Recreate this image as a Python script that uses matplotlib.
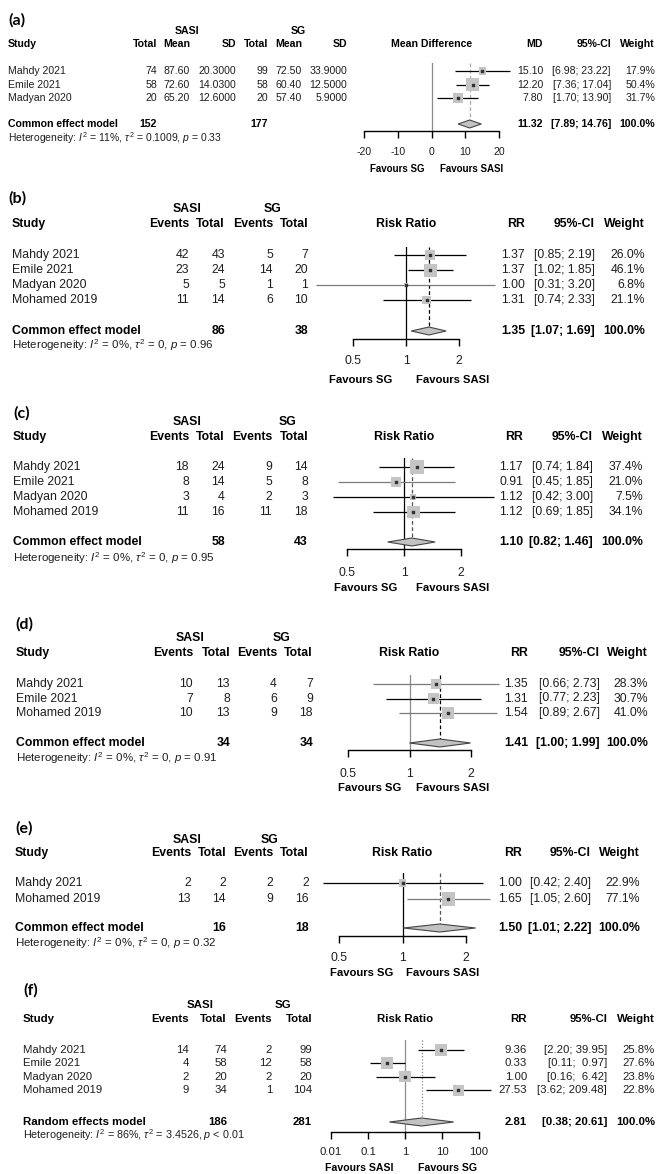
import numpy as np
import matplotlib.pyplot as plt
from matplotlib.patches import Polygon
from matplotlib.ticker import NullLocator
from matplotlib.transforms import blended_transform_factory

plt.rcParams['font.family'] = ['Liberation Sans', 'DejaVu Sans']
plt.rcParams['mathtext.fontset'] = 'custom'
plt.rcParams['mathtext.rm'] = 'Liberation Sans'
plt.rcParams['mathtext.it'] = 'Liberation Sans:italic'
plt.rcParams['mathtext.bf'] = 'Liberation Sans:bold'
plt.rcParams['axes.unicode_minus'] = False

# (a) mean difference
studies_a = ['Mahdy 2021', 'Emile 2021', 'Madyan 2020']
sasi_total_a = [74, 58, 20]
sasi_mean_a = [87.60, 72.60, 65.20]
sasi_sd_a = [20.3000, 14.0300, 12.6000]
sg_total_a = [99, 58, 20]
sg_mean_a = [72.50, 60.40, 57.40]
sg_sd_a = [33.9000, 12.5000, 5.9000]
md_a = [15.10, 12.20, 7.80]
lo_a = [6.98, 7.36, 1.70]
hi_a = [23.22, 17.04, 13.90]
w_a = [17.9, 50.4, 31.7]
pooled_a = (11.32, 7.89, 14.76)
totals_a = (152, 177)
het_a = ('11%', '0.1009', '= 0.33')

# (b) - (f) risk ratios
studies_b = ['Mahdy 2021', 'Emile 2021', 'Madyan 2020', 'Mohamed 2019']
sasi_ev_b = [42, 23, 5, 11]
sasi_n_b = [43, 24, 5, 14]
sg_ev_b = [5, 14, 1, 6]
sg_n_b = [7, 20, 1, 10]
rr_b = [1.37, 1.37, 1.00, 1.31]
lo_b = [0.85, 1.02, 0.31, 0.74]
hi_b = [2.19, 1.85, 3.20, 2.33]
w_b = [26.0, 46.1, 6.8, 21.1]
pooled_b = (1.35, 1.07, 1.69)
totals_b = (86, 38)
het_b = ('0%', '0', '= 0.96')

studies_c = ['Mahdy 2021', 'Emile 2021', 'Madyan 2020', 'Mohamed 2019']
sasi_ev_c = [18, 8, 3, 11]
sasi_n_c = [24, 14, 4, 16]
sg_ev_c = [9, 5, 2, 11]
sg_n_c = [14, 8, 3, 18]
rr_c = [1.17, 0.91, 1.12, 1.12]
lo_c = [0.74, 0.45, 0.42, 0.69]
hi_c = [1.84, 1.85, 3.00, 1.85]
w_c = [37.4, 21.0, 7.5, 34.1]
pooled_c = (1.10, 0.82, 1.46)
totals_c = (58, 43)
het_c = ('0%', '0', '= 0.95')

studies_d = ['Mahdy 2021', 'Emile 2021', 'Mohamed 2019']
sasi_ev_d = [10, 7, 10]
sasi_n_d = [13, 8, 13]
sg_ev_d = [4, 6, 9]
sg_n_d = [7, 9, 18]
rr_d = [1.35, 1.31, 1.54]
lo_d = [0.66, 0.77, 0.89]
hi_d = [2.73, 2.23, 2.67]
w_d = [28.3, 30.7, 41.0]
pooled_d = (1.41, 1.00, 1.99)
totals_d = (34, 34)
het_d = ('0%', '0', '= 0.91')

studies_e = ['Mahdy 2021', 'Mohamed 2019']
sasi_ev_e = [2, 13]
sasi_n_e = [2, 14]
sg_ev_e = [2, 9]
sg_n_e = [2, 16]
rr_e = [1.00, 1.65]
lo_e = [0.42, 1.05]
hi_e = [2.40, 2.60]
w_e = [22.9, 77.1]
pooled_e = (1.50, 1.01, 2.22)
totals_e = (16, 18)
het_e = ('0%', '0', '= 0.32')

studies_f = ['Mahdy 2021', 'Emile 2021', 'Madyan 2020', 'Mohamed 2019']
sasi_ev_f = [14, 4, 2, 9]
sasi_n_f = [74, 58, 20, 34]
sg_ev_f = [2, 12, 2, 1]
sg_n_f = [99, 58, 20, 104]
rr_f = [9.36, 0.33, 1.00, 27.53]
lo_f = [2.20, 0.11, 0.16, 3.62]
hi_f = [39.95, 0.97, 6.42, 209.48]
w_f = [25.8, 27.6, 23.8, 22.8]
pooled_f = (2.81, 0.38, 20.61)
totals_f = (186, 281)
het_f = ('86%', '3.4526', '< 0.01')

W, H = 658, 1174
fig = plt.figure(figsize=(W / 100, H / 100), dpi=100)
bg = fig.add_axes([0, 0, 1, 1])
bg.set_xlim(0, W)
bg.set_ylim(H, 0)
bg.axis('off')

TXT = '#1e1e1e'
GREY = '#7a7a7a'


def draw_panel(L, studies, cols, fmts, est, lo, hi, wt, pooled, totals, het):
    fs = L['fs']
    reg = dict(fontsize=fs, color=TXT, va='center')
    bold = dict(fontsize=fs, color='black', va='center', fontweight='bold')
    n = len(studies)
    est, lo, hi, wt = map(np.asarray, (est, lo, hi, wt))

    bg.text(L['label'][0], L['label'][1], L['name'], fontsize=11.5,
            fontweight='bold', family='Lato', va='center', ha='left')
    for grp, gx in zip(('SASI', 'SG'), L['group_x']):
        bg.text(gx, L['group_y'], grp, ha='center', **bold)
    bg.text(L['study_x'], L['head_y'], 'Study', ha='left', **bold)
    for head, xr in zip(L['heads'], L['col_right']):
        bg.text(xr, L['head_y'], head, ha='right', **bold)
    rx = L['right_x']
    bg.text(rx[0], L['head_y'], L['est_head'], ha='right', **bold)
    bg.text(rx[1], L['head_y'], '95%-CI', ha='right', **bold)
    bg.text(rx[2], L['head_y'], 'Weight', ha='right', **bold)

    def ci(a, b):
        return '[%.2f; %*.2f]' % (a, L['ci_w'], b)

    rows_y = L['row0'] + L['dy'] * np.arange(n)
    for i in range(n):
        y = rows_y[i]
        bg.text(L['study_x'], y, studies[i], ha='left', **reg)
        for col, f, xr in zip(cols, fmts, L['col_right']):
            bg.text(xr, y, f % col[i], ha='right', **reg)
        bg.text(rx[0], y, '%.2f' % est[i], ha='right', **reg)
        bg.text(rx[1], y, ci(lo[i], hi[i]), ha='right', **reg)
        bg.text(rx[2], y, '%.1f%%' % wt[i], ha='right', **reg)

    ys = L['sum_y']
    bg.text(L['study_x'], ys, L['model'], ha='left', **bold)
    for k, tot in zip(L['total_cols'], totals):
        bg.text(L['col_right'][k], ys, str(tot), ha='right', **bold)
    bg.text(rx[0], ys, '%.2f' % pooled[0], ha='right', **bold)
    bg.text(rx[1], ys, ci(pooled[1], pooled[2]), ha='right', **bold)
    bg.text(rx[2], ys, '100.0%', ha='right', **bold)
    bg.text(L['study_x'], L['het_y'],
            r'Heterogeneity: $I^2$ = {}, $\tau^2$ = {}, $p$ {}'.format(*het),
            ha='left', fontsize=fs * L['het_scale'], color=TXT, va='center')

    # forest plot axes
    x0, x1 = L['ax_px']
    yt, ya = L['vtop'], L['axis_y']
    ax = fig.add_axes([x0 / W, 1 - ya / H, (x1 - x0) / W, (ya - yt) / H])
    ax.patch.set_alpha(0)
    if L['log']:
        ax.set_xscale('log')
    ticks = L['ticks']
    ax.set_xlim(ticks[0], ticks[-1])
    ax.set_ylim((ya - L['row0']) / L['dy'], (yt - L['row0']) / L['dy'])
    for sp in ('top', 'left', 'right'):
        ax.spines[sp].set_visible(False)
    ax.spines['bottom'].set_linewidth(1.0)
    ax.set_yticks([])
    ax.set_xticks(ticks)
    ax.xaxis.set_minor_locator(NullLocator())
    ax.tick_params(axis='x', direction='out', length=5, width=1.0,
                   labelbottom=False)
    mix = blended_transform_factory(ax.transData, bg.transData)
    for t, lab in zip(ticks, L['tick_labels']):
        bg.text(t, L['tick_y'], lab, transform=mix, ha='center', **reg)
    bg.text(L['null'], L['head_y'], L['title'], transform=mix, ha='center', **bold)
    for lab, fx in L['fav']:
        bg.text(fx, L['fav_y'], lab, ha='center', va='center',
                fontsize=fs * 0.92, fontweight='bold', color='black')

    yi = np.arange(n)
    ysum = (ys - L['row0']) / L['dy']
    h = 4.0 / L['dy']
    ax.axvline(L['null'], color=L['null_color'], lw=0.9, zorder=1)
    ax.vlines(pooled[0], ax.get_ylim()[1], ysum - h, colors=L['pool_color'],
              linestyles=L['pool_ls'], lw=0.9, zorder=1)
    ax.hlines(yi, lo, hi, colors=L['ci_colors'], lw=0.9, zorder=2, clip_on=False)
    side = L['box'] * np.sqrt(wt / wt.max())
    ax.scatter(est, yi, marker='s', s=(side * 0.72) ** 2, color='#c4c4c4',
               linewidths=0, zorder=3, clip_on=False)
    ax.scatter(est, yi, marker='s', s=1.2, color='#333333', zorder=4)
    dia = Polygon([[pooled[1], ysum], [pooled[0], ysum - h],
                   [pooled[2], ysum], [pooled[0], ysum + h]], closed=True,
                  facecolor='#c2c2c2', edgecolor='#444444', lw=0.8,
                  zorder=3, clip_on=False)
    ax.add_patch(dia)


rr_heads = ['Events', 'Total', 'Events', 'Total']
rr_fmts = ['%d', '%d', '%d', '%d']
rr_ticks = [0.5, 1, 2]
rr_labels = ['0.5', '1', '2']

layout_a = dict(name='(a)', label=(8, 20), fs=7.6, group_y=31, group_x=(187, 298),
                head_y=44, study_x=8, heads=['Total', 'Mean', 'SD', 'Total', 'Mean', 'SD'],
                col_right=[157, 190, 236, 268, 302, 347], row0=71, dy=13.5,
                sum_y=124, het_y=138, het_scale=0.98, model='Common effect model',
                total_cols=(0, 3), title='Mean Difference', est_head='MD',
                right_x=(543, 611, 655), ci_w=0,
                ax_px=(364, 499), vtop=63, axis_y=131, tick_y=152, log=False,
                ticks=[-20, -10, 0, 10, 20], tick_labels=['-20', '-10', '0', '10', '20'],
                null=0, fav_y=169, fav=(('Favours SG', 397), ('Favours SASI', 472)),
                null_color='#8c8c8c', pool_color='#aaaaaa', pool_ls=(0, (3, 2)),
                ci_colors=['black', 'black', 'black'], box=12.5)

layout_b = dict(name='(b)', label=(8, 198), fs=8.8, group_y=209, group_x=(187, 273),
                head_y=224, study_x=12, heads=rr_heads, col_right=[189, 225, 273, 308],
                row0=255, dy=15, sum_y=331, het_y=345, het_scale=0.94,
                model='Common effect model',
                total_cols=(1, 3), title='Risk Ratio', est_head='RR',
                right_x=(525, 595, 645), ci_w=0, ax_px=(353, 459), vtop=247,
                axis_y=339, tick_y=361, log=True, ticks=rr_ticks, tick_labels=rr_labels,
                null=1, fav_y=380, fav=(('Favours SG', 361), ('Favours SASI', 453)),
                null_color='black', pool_color='black', pool_ls=(0, (3, 2)),
                ci_colors=['black', 'black', GREY, 'black'], box=13)

layout_c = dict(name='(c)', label=(13, 413), fs=8.8, group_y=422, group_x=(187, 288),
                head_y=437, study_x=13, heads=rr_heads, col_right=[189, 225, 272, 308],
                row0=467, dy=15, sum_y=542, het_y=558, het_scale=0.94,
                model='Common effect model',
                total_cols=(1, 3), title='Risk Ratio', est_head='RR',
                right_x=(523, 593, 643), ci_w=0, ax_px=(347, 461), vtop=458,
                axis_y=549, tick_y=573, log=True, ticks=rr_ticks, tick_labels=rr_labels,
                null=1, fav_y=588, fav=(('Favours SG', 366), ('Favours SASI', 453)),
                null_color='black', pool_color='#555555', pool_ls=(0, (3, 2)),
                ci_colors=['black', GREY, 'black', 'black'], box=13.5)

layout_d = dict(name='(d)', label=(15, 624), fs=8.8, group_y=638, group_x=(190, 282),
                head_y=653, study_x=16, heads=rr_heads, col_right=[193, 230, 277, 313],
                row0=684, dy=14.5, sum_y=743, het_y=758, het_scale=0.94,
                model='Common effect model',
                total_cols=(1, 3), title='Risk Ratio', est_head='RR',
                right_x=(528, 600, 648), ci_w=0, ax_px=(348, 471), vtop=675,
                axis_y=750, tick_y=774, log=True, ticks=rr_ticks, tick_labels=rr_labels,
                null=1, fav_y=788, fav=(('Favours SG', 370), ('Favours SASI', 453)),
                null_color='#8c8c8c', pool_color='black', pool_ls=(0, (3, 2)),
                ci_colors=[GREY, 'black', GREY], box=12.5)

layout_e = dict(name='(e)', label=(15, 828), fs=8.8, group_y=840, group_x=(187, 270),
                head_y=853, study_x=15, heads=rr_heads, col_right=[191, 226, 273, 309],
                row0=883, dy=16, sum_y=928, het_y=943, het_scale=0.94,
                model='Common effect model',
                total_cols=(1, 3), title='Risk Ratio', est_head='RR',
                right_x=(522, 591, 640), ci_w=0, ax_px=(339, 466), vtop=873,
                axis_y=936, tick_y=958, log=True, ticks=rr_ticks, tick_labels=rr_labels,
                null=1, fav_y=973, fav=(('Favours SG', 362), ('Favours SASI', 443)),
                null_color='black', pool_color='#555555', pool_ls=(0, (3, 2)),
                ci_colors=['black', GREY], box=13.5)

layout_f = dict(name='(f)', label=(23, 990), fs=8.2, group_y=1005, group_x=(200, 283),
                head_y=1019, study_x=23, heads=rr_heads, col_right=[189, 227, 272, 312],
                row0=1050, dy=13.4, sum_y=1122, het_y=1135, het_scale=0.94,
                model='Random effects model',
                total_cols=(1, 3), title='Risk Ratio', est_head='RR',
                right_x=(527, 607, 655), ci_w=5, ax_px=(331, 479), vtop=1040,
                axis_y=1132, tick_y=1152, log=True, ticks=[0.01, 0.1, 1, 10, 100],
                tick_labels=['0.01', '0.1', '1', '10', '100'], null=1, fav_y=1168,
                fav=(('Favours SASI', 359), ('Favours SG', 448)),
                null_color='#8c8c8c', pool_color='#888888', pool_ls=(0, (1, 1.5)),
                ci_colors=['black'] * 4, box=12)

draw_panel(layout_a, studies_a,
           [sasi_total_a, sasi_mean_a, sasi_sd_a, sg_total_a, sg_mean_a, sg_sd_a],
           ['%d', '%.2f', '%.4f', '%d', '%.2f', '%.4f'],
           md_a, lo_a, hi_a, w_a, pooled_a, totals_a, het_a)
draw_panel(layout_b, studies_b, [sasi_ev_b, sasi_n_b, sg_ev_b, sg_n_b], rr_fmts,
           rr_b, lo_b, hi_b, w_b, pooled_b, totals_b, het_b)
draw_panel(layout_c, studies_c, [sasi_ev_c, sasi_n_c, sg_ev_c, sg_n_c], rr_fmts,
           rr_c, lo_c, hi_c, w_c, pooled_c, totals_c, het_c)
draw_panel(layout_d, studies_d, [sasi_ev_d, sasi_n_d, sg_ev_d, sg_n_d], rr_fmts,
           rr_d, lo_d, hi_d, w_d, pooled_d, totals_d, het_d)
draw_panel(layout_e, studies_e, [sasi_ev_e, sasi_n_e, sg_ev_e, sg_n_e], rr_fmts,
           rr_e, lo_e, hi_e, w_e, pooled_e, totals_e, het_e)
draw_panel(layout_f, studies_f, [sasi_ev_f, sasi_n_f, sg_ev_f, sg_n_f], rr_fmts,
           rr_f, lo_f, hi_f, w_f, pooled_f, totals_f, het_f)

fig.savefig('out.png', dpi=100, facecolor='white')
